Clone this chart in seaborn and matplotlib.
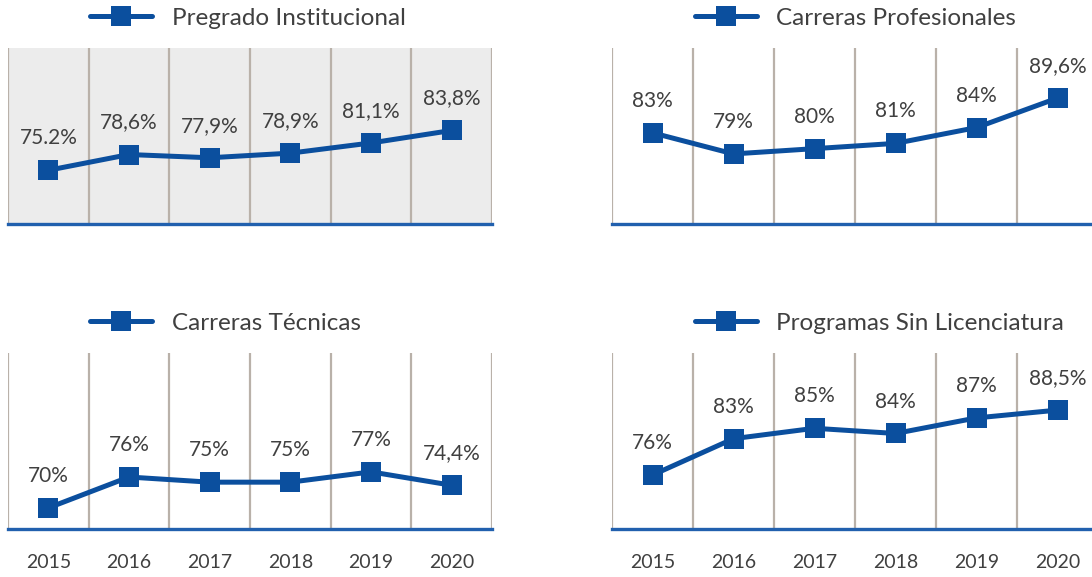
import pandas as pd
import numpy as np
import matplotlib.pyplot as plt
import seaborn as sns

# Datos
anios = [2015, 2016, 2017, 2018, 2019, 2020]
titulos = ["Pregrado Institucional", "Carreras Profesionales",
           "Carreras Técnicas", "Programas Sin Licenciatura"]
pregrado = [75.2, 78.6, 77.9, 78.9, 81.1, 83.8]
profesionales = [83, 79, 80, 81, 84, 89.6]
tecnicas = [70, 76, 75, 75, 77, 74.4]
sin_licenciatura = [76, 83, 85, 84, 87, 88.5]
etiquetas = [
    ["75.2%", "78,6%", "77,9%", "78,9%", "81,1%", "83,8%"],
    ["83%", "79%", "80%", "81%", "84%", "89,6%"],
    ["70%", "76%", "75%", "75%", "77%", "74,4%"],
    ["76%", "83%", "85%", "84%", "87%", "88,5%"],
]
series = [pregrado, profesionales, tecnicas, sin_licenciatura]

AZUL = "#0b4f9e"
AZUL_EJE = "#2160ae"
GRIS_LINEA = "#b9b1a9"
TEXTO = "#404040"

sns.set_style("white")
plt.rcParams['font.family'] = ['Lato', 'DejaVu Sans']

fig = plt.figure(figsize=(10.92, 5.77), dpi=100)

# posiciones de los paneles (fracción de figura)
W, H = 1092, 577
posiciones = [
    (8 / W, (H - 224) / H, 484 / W, 176 / H),
    (612 / W, (H - 224) / H, 486 / W, 176 / H),
    (8 / W, (H - 529) / H, 484 / W, 176 / H),
    (612 / W, (H - 529) / H, 486 / W, 176 / H),
]
limites_y = [(63.6, 101.6), (65.7, 99.1), (65.9, 100.1), (65.6, 99.5)]

for i, (titulo, valores, etqs) in enumerate(zip(titulos, series, etiquetas)):
    ax = fig.add_axes(posiciones[i])
    df = pd.DataFrame({"Año": anios, "Valor": valores, "Serie": titulo})

    if i == 0:
        ax.set_facecolor("#ececec")

    # líneas verticales separando los años
    for b in np.arange(anios[0] - 0.5, anios[-1] + 1, 1.0):
        ax.axvline(b, color=GRIS_LINEA, lw=1.6, zorder=1)

    sns.lineplot(data=df, x="Año", y="Valor", hue="Serie", palette=[AZUL],
                 marker="s", markersize=14.5, markeredgewidth=0,
                 linewidth=3.6, ax=ax, zorder=3)

    for x, y, t in zip(anios, valores, etqs):
        ax.annotate(t, (x, y), xytext=(0, 23), textcoords="offset points",
                    ha="center", va="center", fontsize=15, color=TEXTO)

    ax.set_xlim(anios[0] - 0.5, anios[-1] + 0.5)
    ax.set_ylim(*limites_y[i])
    ax.set_xticks(anios)
    ax.set_yticks([])
    ax.set_xlabel("")
    ax.set_ylabel("")
    if i >= 2:
        ax.set_xticklabels([str(a) for a in anios], fontsize=14, color=TEXTO)
    else:
        ax.set_xticklabels([])
    ax.tick_params(axis="x", length=0, pad=18)

    for lado in ["top", "left", "right"]:
        ax.spines[lado].set_visible(False)
    ax.spines["bottom"].set_color(AZUL_EJE)
    ax.spines["bottom"].set_linewidth(2.4)
    ax.spines["bottom"].set_zorder(4)

    leg = ax.legend(loc="center left", bbox_to_anchor=(0.17, 1.17),
                    frameon=False, fontsize=17.5, handlelength=2.55,
                    handletextpad=0.8, borderpad=0, borderaxespad=0,
                    labelcolor=TEXTO)
    for h in leg.legend_handles:
        h.set_linewidth(3.6)

plt.savefig("out.png", dpi=100)
